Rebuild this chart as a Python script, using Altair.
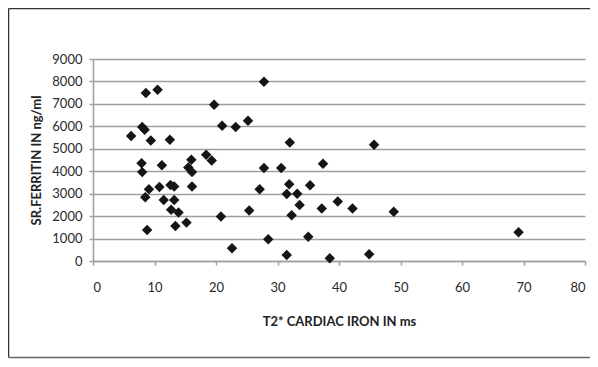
import altair as alt
import pandas as pd

t2_ms = [6.2, 8.6, 10.5, 8.0, 8.4, 9.4, 12.5, 7.9, 8.0, 11.2, 9.1, 8.5, 10.8, 11.5,
         12.6, 13.2, 13.2, 12.7, 13.9, 8.8, 13.4, 15.2, 16.0, 15.5, 16.1, 16.1,
         18.4, 19.3, 19.7, 21.0, 23.2, 25.2, 20.8, 22.6, 25.4,
         27.8, 32.0, 45.7, 27.8, 30.6, 37.4, 27.1, 31.9, 35.3, 31.5, 33.2, 33.6,
         39.8, 37.2, 42.2, 48.9, 32.3, 28.5, 35.0, 31.5, 38.5, 44.9, 69.2]
ferritin = [5570, 7490, 7630, 5970, 5850, 5370, 5400, 4360, 3960, 4270, 3200, 2840, 3300, 2720,
            3390, 3320, 2720, 2280, 2160, 1380, 1560, 1710, 4510, 4170, 3960, 3320,
            4730, 4480, 6960, 6030, 5970, 6250, 1980, 570, 2250,
            7990, 5280, 5180, 4140, 4140, 4330, 3200, 3420, 3380, 2980, 3000, 2500,
            2650, 2340, 2340, 2190, 2040, 970, 1080, 270, 120, 300, 1280]

x_ticks = [0, 10, 20, 30, 40, 50, 60, 70, 80]
y_ticks = [0, 1000, 2000, 3000, 4000, 5000, 6000, 7000, 8000, 9000]

df = pd.DataFrame({"t2": t2_ms, "ferritin": ferritin})

FONT = "Lato"
GRAY = "#9e9e9e"

points = alt.Chart(df).mark_point(
    shape="diamond", filled=True, size=110, color="#151515", opacity=1
).encode(
    x=alt.X("t2:Q", scale=alt.Scale(domain=[0, 80], nice=False),
            axis=alt.Axis(values=x_ticks, title="T2* CARDIAC IRON IN ms", grid=False,
                          format="d",
                          domainColor=GRAY, domainWidth=1.5, tickColor=GRAY, tickWidth=1.5,
                          tickSize=4, labelPadding=16, labelFontSize=13, labelFont=FONT,
                          labelColor="#2a2a2a", titleFont=FONT, titleFontSize=13,
                          titleFontWeight="bold", titleColor="#222", titlePadding=21)),
    y=alt.Y("ferritin:Q", scale=alt.Scale(domain=[0, 9000], nice=False),
            axis=alt.Axis(values=y_ticks, title="SR.FERRITIN IN ng/ml", grid=True,
                          format="d",
                          gridColor=GRAY, gridWidth=1.5, domainColor=GRAY, domainWidth=1.5,
                          tickColor=GRAY, tickWidth=1.5, tickSize=4, labelPadding=7,
                          labelFontSize=13, labelFont=FONT, labelColor="#2a2a2a",
                          titleFont=FONT, titleFontSize=13, titleFontWeight="bold",
                          titleColor="#222", titlePadding=8)),
)

one = pd.DataFrame({"a": [0]})
frame_top = alt.Chart(one).mark_rule(color="#333", strokeWidth=1.5).encode(
    x=alt.value(-84.5), x2=alt.value(540), y=alt.value(-50.5))
frame_left = alt.Chart(one).mark_rule(color="#333", strokeWidth=1.5).encode(
    x=alt.value(-84.5), y=alt.value(-50.5), y2=alt.value(298.5))
frame_bottom = alt.Chart(one).mark_rule(color="#666", strokeWidth=1.5).encode(
    x=alt.value(-84.5), x2=alt.value(540), y=alt.value(298.5))

chart = alt.layer(frame_top, frame_left, frame_bottom, points).properties(
    width=492, height=202,
    autosize=alt.AutoSizeParams(type="none"),
    padding={"left": 85, "top": 51, "right": 5, "bottom": 98},
).configure_view(stroke=None)

chart.save("out.html", embed_options={"renderer": "svg", "actions": False})
